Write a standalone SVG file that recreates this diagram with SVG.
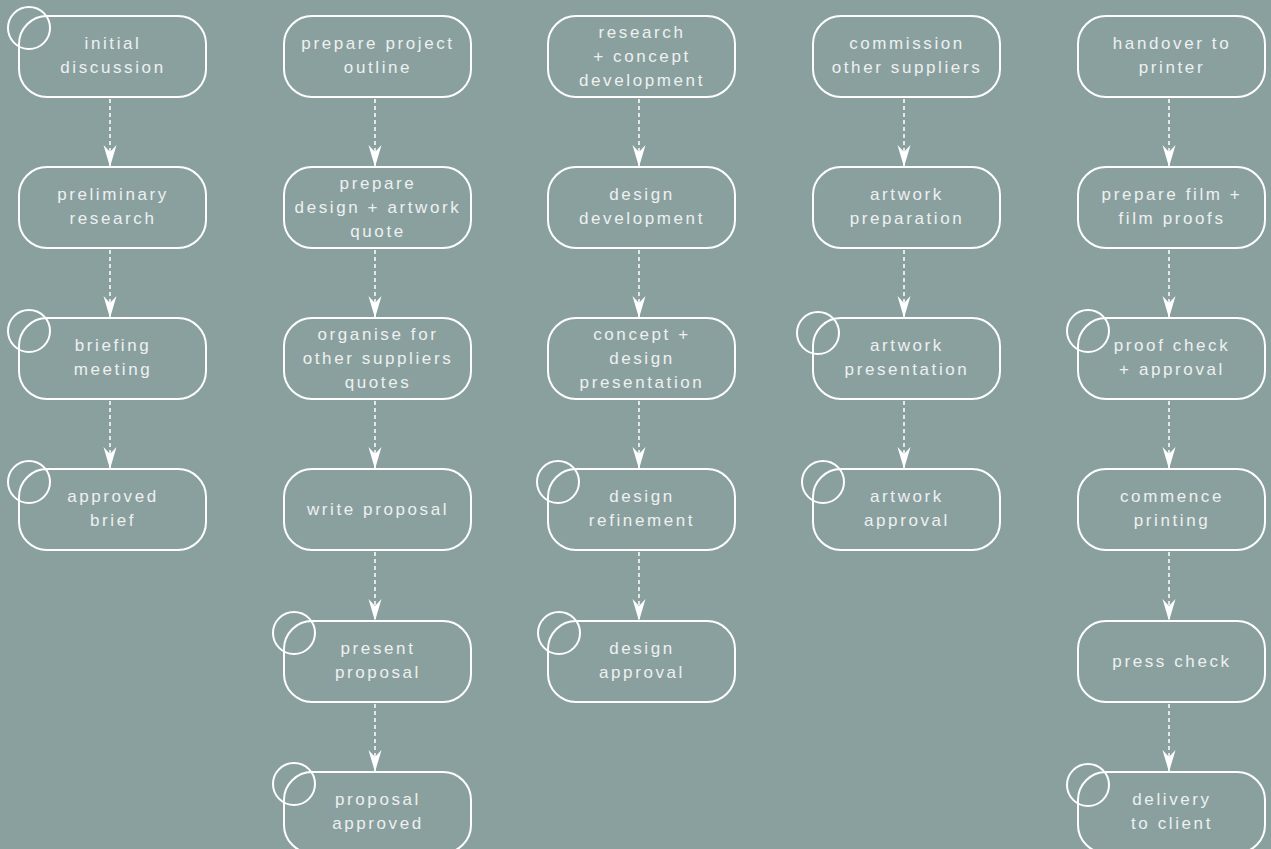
<svg xmlns="http://www.w3.org/2000/svg" width="1271" height="849" viewBox="0 0 1271 849">
<defs>
<style>
.n rect{fill:none;stroke:#ffffff;stroke-width:2}
.n circle{fill:none;stroke:#ffffff;stroke-width:2}
.n text{font-family:"Liberation Sans",Arial,sans-serif;font-size:17px;letter-spacing:2.6px;fill:#eef0f0;text-anchor:middle}
.c line{stroke:#ffffff;stroke-width:1.5;stroke-dasharray:4 3}
</style>
<marker id="ah" viewBox="0 0 24 14" refX="22" refY="7" markerWidth="24" markerHeight="14" markerUnits="userSpaceOnUse" orient="auto">
<path d="M22,7 L0,0.5 L7,7 L0,13.5 Z" fill="#ffffff"/>
</marker>
</defs>
<rect width="1271" height="849" fill="#89a09f"/>
<g id="connectors" class="c">
<line x1="110" y1="99" x2="110" y2="167" marker-end="url(#ah)"/>
<line x1="110" y1="250" x2="110" y2="318" marker-end="url(#ah)"/>
<line x1="110" y1="401" x2="110" y2="469" marker-end="url(#ah)"/>
<line x1="375" y1="99" x2="375" y2="167" marker-end="url(#ah)"/>
<line x1="375" y1="250" x2="375" y2="318" marker-end="url(#ah)"/>
<line x1="375" y1="401" x2="375" y2="469" marker-end="url(#ah)"/>
<line x1="375" y1="552" x2="375" y2="621" marker-end="url(#ah)"/>
<line x1="375" y1="704" x2="375" y2="772" marker-end="url(#ah)"/>
<line x1="639" y1="99" x2="639" y2="167" marker-end="url(#ah)"/>
<line x1="639" y1="250" x2="639" y2="318" marker-end="url(#ah)"/>
<line x1="639" y1="401" x2="639" y2="469" marker-end="url(#ah)"/>
<line x1="639" y1="552" x2="639" y2="621" marker-end="url(#ah)"/>
<line x1="904" y1="99" x2="904" y2="167" marker-end="url(#ah)"/>
<line x1="904" y1="250" x2="904" y2="318" marker-end="url(#ah)"/>
<line x1="904" y1="401" x2="904" y2="469" marker-end="url(#ah)"/>
<line x1="1169" y1="99" x2="1169" y2="167" marker-end="url(#ah)"/>
<line x1="1169" y1="250" x2="1169" y2="318" marker-end="url(#ah)"/>
<line x1="1169" y1="401" x2="1169" y2="469" marker-end="url(#ah)"/>
<line x1="1169" y1="552" x2="1169" y2="621" marker-end="url(#ah)"/>
<line x1="1169" y1="704" x2="1169" y2="772" marker-end="url(#ah)"/>
</g>
<!-- column 1 -->
<g id="initial-discussion" class="n"><rect x="19" y="16" width="187" height="81" rx="28"/><circle cx="29" cy="28" r="21"/><text x="113" y="49">initial</text><text x="113" y="73">discussion</text></g>
<g id="preliminary-research" class="n"><rect x="19" y="167" width="187" height="81" rx="28"/><text x="113" y="200">preliminary</text><text x="113" y="224">research</text></g>
<g id="briefing-meeting" class="n"><rect x="19" y="318" width="187" height="81" rx="28"/><circle cx="29" cy="331" r="21"/><text x="113" y="351">briefing</text><text x="113" y="375">meeting</text></g>
<g id="approved-brief" class="n"><rect x="19" y="469" width="187" height="81" rx="28"/><circle cx="29" cy="482" r="21"/><text x="113" y="502">approved</text><text x="113" y="526">brief</text></g>
<!-- column 2 -->
<g id="prepare-project-outline" class="n"><rect x="284" y="16" width="187" height="81" rx="28"/><text x="378" y="49">prepare project</text><text x="378" y="73">outline</text></g>
<g id="prepare-quote" class="n"><rect x="284" y="167" width="187" height="81" rx="28"/><text x="378" y="189">prepare</text><text x="378" y="213">design + artwork</text><text x="378" y="237">quote</text></g>
<g id="organise-quotes" class="n"><rect x="284" y="318" width="187" height="81" rx="28"/><text x="378" y="340">organise for</text><text x="378" y="364">other suppliers</text><text x="378" y="388">quotes</text></g>
<g id="write-proposal" class="n"><rect x="284" y="469" width="187" height="81" rx="28"/><text x="378" y="515">write proposal</text></g>
<g id="present-proposal" class="n"><rect x="284" y="621" width="187" height="81" rx="28"/><circle cx="294" cy="633" r="21"/><text x="378" y="654">present</text><text x="378" y="678">proposal</text></g>
<g id="proposal-approved" class="n"><rect x="284" y="772" width="187" height="81" rx="28"/><circle cx="294" cy="784" r="21"/><text x="378" y="805">proposal</text><text x="378" y="829">approved</text></g>
<!-- column 3 -->
<g id="research-concept" class="n"><rect x="548" y="16" width="187" height="81" rx="28"/><text x="642" y="38">research</text><text x="642" y="62">+ concept</text><text x="642" y="86">development</text></g>
<g id="design-development" class="n"><rect x="548" y="167" width="187" height="81" rx="28"/><text x="642" y="200">design</text><text x="642" y="224">development</text></g>
<g id="concept-presentation" class="n"><rect x="548" y="318" width="187" height="81" rx="28"/><text x="642" y="340">concept +</text><text x="642" y="364">design</text><text x="642" y="388">presentation</text></g>
<g id="design-refinement" class="n"><rect x="548" y="469" width="187" height="81" rx="28"/><circle cx="558" cy="482" r="21"/><text x="642" y="502">design</text><text x="642" y="526">refinement</text></g>
<g id="design-approval" class="n"><rect x="548" y="621" width="187" height="81" rx="28"/><circle cx="559" cy="633" r="21"/><text x="642" y="654">design</text><text x="642" y="678">approval</text></g>
<!-- column 4 -->
<g id="commission-suppliers" class="n"><rect x="813" y="16" width="187" height="81" rx="28"/><text x="907" y="49">commission</text><text x="907" y="73">other suppliers</text></g>
<g id="artwork-preparation" class="n"><rect x="813" y="167" width="187" height="81" rx="28"/><text x="907" y="200">artwork</text><text x="907" y="224">preparation</text></g>
<g id="artwork-presentation" class="n"><rect x="813" y="318" width="187" height="81" rx="28"/><circle cx="818" cy="333" r="21"/><text x="907" y="351">artwork</text><text x="907" y="375">presentation</text></g>
<g id="artwork-approval" class="n"><rect x="813" y="469" width="187" height="81" rx="28"/><circle cx="823" cy="482" r="21"/><text x="907" y="502">artwork</text><text x="907" y="526">approval</text></g>
<!-- column 5 -->
<g id="handover-printer" class="n"><rect x="1078" y="16" width="187" height="81" rx="28"/><text x="1172" y="49">handover to</text><text x="1172" y="73">printer</text></g>
<g id="prepare-film" class="n"><rect x="1078" y="167" width="187" height="81" rx="28"/><text x="1172" y="200">prepare film +</text><text x="1172" y="224">film proofs</text></g>
<g id="proof-check" class="n"><rect x="1078" y="318" width="187" height="81" rx="28"/><circle cx="1088" cy="331" r="21"/><text x="1172" y="351">proof check</text><text x="1172" y="375">+ approval</text></g>
<g id="commence-printing" class="n"><rect x="1078" y="469" width="187" height="81" rx="28"/><text x="1172" y="502">commence</text><text x="1172" y="526">printing</text></g>
<g id="press-check" class="n"><rect x="1078" y="621" width="187" height="81" rx="28"/><text x="1172" y="667">press check</text></g>
<g id="delivery-client" class="n"><rect x="1078" y="772" width="187" height="81" rx="28"/><circle cx="1088" cy="785" r="21"/><text x="1172" y="805">delivery</text><text x="1172" y="829">to client</text></g>
</svg>
